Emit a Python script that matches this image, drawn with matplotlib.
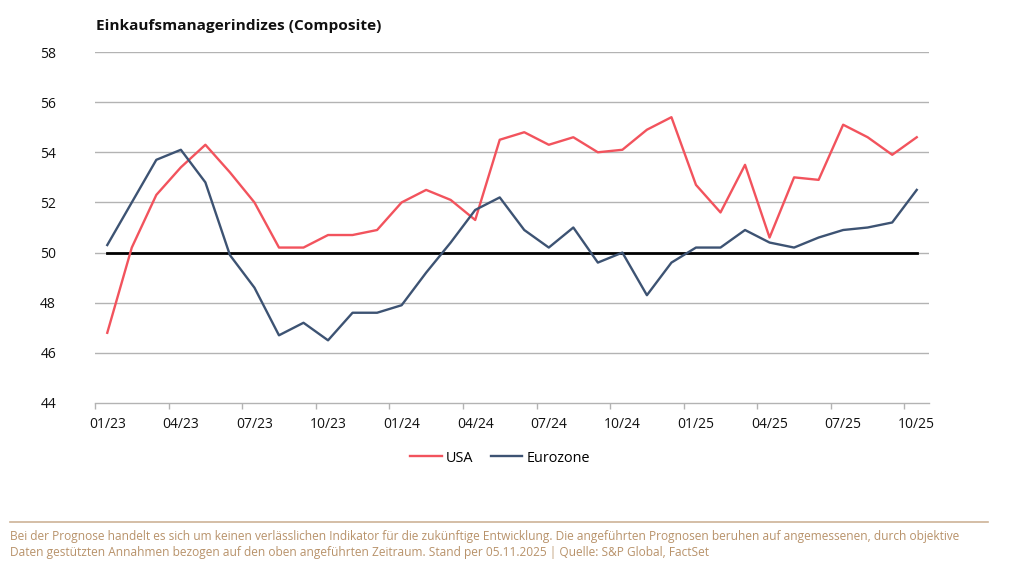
import matplotlib
matplotlib.use("Agg")
import matplotlib.pyplot as plt
from matplotlib.lines import Line2D

plt.rcParams['font.family'] = ['Open Sans', 'DejaVu Sans']

tick_labels = ["01/23", "04/23", "07/23", "10/23", "01/24", "04/24", "07/24",
               "10/24", "01/25", "04/25", "07/25", "10/25"]
usa = [46.8, 50.2, 52.3, 53.4, 54.3, 53.2, 52.0, 50.2, 50.2, 50.7, 50.7, 50.9,
       52.0, 52.5, 52.1, 51.3, 54.5, 54.8, 54.3, 54.6, 54.0, 54.1, 54.9, 55.4,
       52.7, 51.6, 53.5, 50.6, 53.0, 52.9, 55.1, 54.6, 53.9, 54.6]
eurozone = [50.3, 52.0, 53.7, 54.1, 52.8, 49.9, 48.6, 46.7, 47.2, 46.5, 47.6, 47.6,
            47.9, 49.2, 50.4, 51.7, 52.2, 50.9, 50.2, 51.0, 49.6, 50.0, 48.3, 49.6,
            50.2, 50.2, 50.9, 50.4, 50.2, 50.6, 50.9, 51.0, 51.2, 52.5]
threshold = 50
yticks = [44, 46, 48, 50, 52, 54, 56, 58]

red = '#f2535d'
blue = '#3d5373'
grid_c = '#b3b3b3'

fig = plt.figure(figsize=(10.24, 5.66), dpi=100)
ax = fig.add_axes([95/1024, 1-403/566, (929-95)/1024, (403-52)/566])

n = len(usa)
x = list(range(n))
for yv in yticks[1:]:
    ax.axhline(yv, color=grid_c, lw=1.0, zorder=1)
ax.plot([0, n-1], [threshold, threshold], color='black', lw=2.0, zorder=2)
ax.plot(x, usa, color=red, lw=1.7, zorder=3, label='USA')
ax.plot(x, eurozone, color=blue, lw=1.7, zorder=3, label='Eurozone')

ax.set_xlim(-0.5, n - 0.5)
ax.set_ylim(44, 58)
ax.set_yticks(yticks)
ax.set_yticklabels([str(v) for v in yticks])
ax.set_xticks(list(range(0, n, 3)))
ax.set_xticklabels(tick_labels)
ax.set_xticks([i - 0.5 for i in range(0, n, 3)], minor=True)
ax.tick_params(axis='x', which='major', length=0, pad=10, labelsize=10, colors='#111111')
ax.tick_params(axis='x', which='minor', length=4, color=grid_c, width=1.0)
ax.tick_params(axis='y', length=0, pad=28, labelsize=10, colors='#111111')
for s in ['top', 'right', 'left']:
    ax.spines[s].set_visible(False)
ax.spines['bottom'].set_color(grid_c)
ax.spines['bottom'].set_linewidth(1.0)

fig.text(96/1024, 1-26/566, 'Einkaufsmanagerindizes (Composite)', fontsize=11.1,
         fontweight='bold', va='center', ha='left', color='#111111')

handles = [Line2D([], [], color=red, lw=1.7), Line2D([], [], color=blue, lw=1.7)]
fig.legend(handles, ['USA', 'Eurozone'], loc='center', bbox_to_anchor=(500/1024, 1-458/566),
           ncol=2, frameon=False, fontsize=10.4, handlelength=2.2, handletextpad=0.3,
           columnspacing=1.2)

fig.add_artist(Line2D([10/1024, 988/1024], [1-522/566, 1-522/566], color='#cdb397', lw=1.2))
foot = ("Bei der Prognose handelt es sich um keinen verlässlichen Indikator für die zukünftige Entwicklung. "
        "Die angeführten Prognosen beruhen auf angemessenen, durch objektive\n"
        "Daten gestützten Annahmen bezogen auf den oben angeführten Zeitraum. Stand per 05.11.2025 | Quelle: S&P Global, FactSet")
fig.text(10/1024, 1-544.5/566, foot, fontsize=8.55, color='#b8926a', va='center', ha='left',
         linespacing=1.3)

fig.savefig('out.png', dpi=100)
